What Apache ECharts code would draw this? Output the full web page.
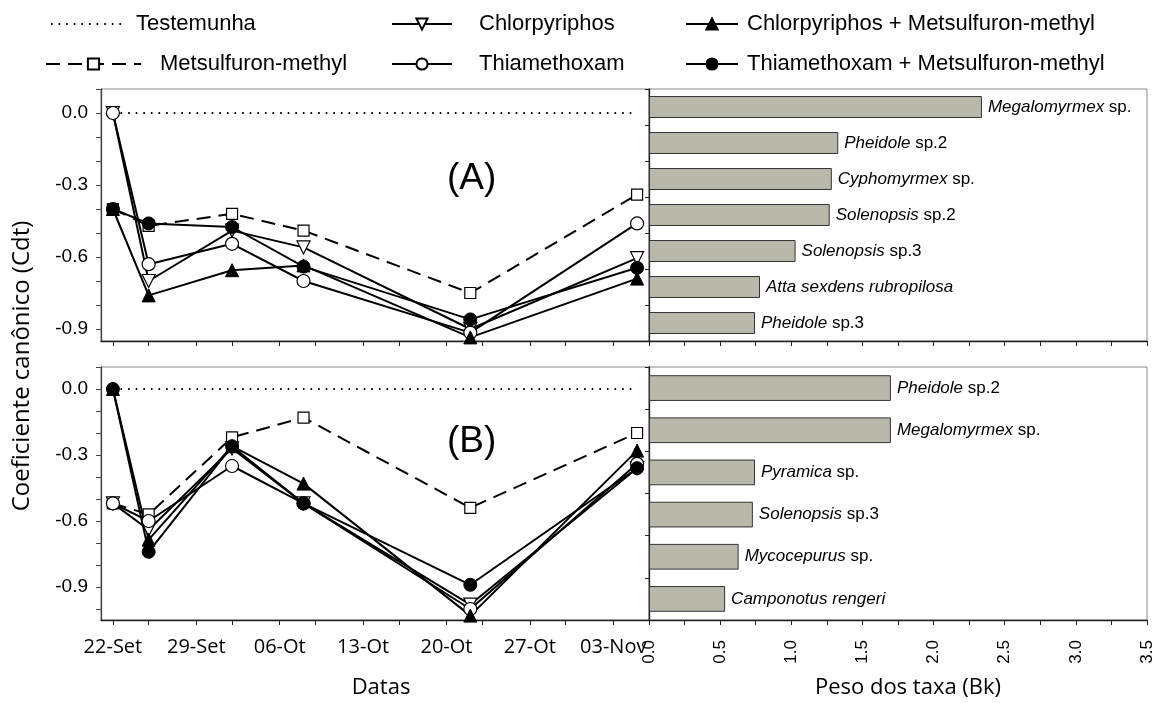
<!DOCTYPE html>
<html>
<head>
<meta charset="utf-8">
<script src="https://cdn.jsdelivr.net/npm/echarts/dist/echarts.min.js"></script>
<style>
html,body{margin:0;padding:0;background:#fff;}
#chart{width:1173px;height:703px;}
</style>
</head>
<body>
<div id="chart"></div>
<script>
// ---- data ----
const sampleDays = [0, 3, 10, 16, 30, 44];
const dateTickDays = [0, 7, 14, 21, 28, 35, 42];
const dateLabels = ['22-Set', '29-Set', '06-Ot', '13-Ot', '20-Ot', '27-Ot', '03-Nov'];
const minorDateTicks = [0, 3, 7, 10, 14, 17, 21, 24, 28, 31, 35, 38, 42, 45];

const seriesNames = ['Testemunha', 'Metsulfuron-methyl', 'Chlorpyriphos', 'Thiamethoxam',
  'Chlorpyriphos + Metsulfuron-methyl', 'Thiamethoxam + Metsulfuron-methyl'];

const testA   = [0, 0, 0, 0, 0, 0];
const metA    = [-0.40, -0.47, -0.42, -0.49, -0.75, -0.34];
const chlA    = [0, -0.70, -0.49, -0.56, -0.90, -0.605];
const thiA    = [0, -0.63, -0.545, -0.70, -0.915, -0.46];
const chlMetA = [-0.40, -0.76, -0.655, -0.635, -0.935, -0.69];
const thiMetA = [-0.40, -0.46, -0.475, -0.64, -0.86, -0.645];

const testB   = [0, 0, 0, 0, 0, 0];
const metB    = [-0.52, -0.57, -0.22, -0.13, -0.54, -0.20];
const chlB    = [-0.52, -0.64, -0.27, -0.52, -0.98, -0.36];
const thiB    = [-0.52, -0.60, -0.35, -0.52, -1.00, -0.34];
const chlMetB = [0, -0.685, -0.26, -0.43, -1.03, -0.28];
const thiMetB = [0, -0.74, -0.26, -0.52, -0.89, -0.36];

const yLabelsAB = [0, -0.3, -0.6, -0.9];
const yTicksA = [0.1, 0, -0.1, -0.2, -0.3, -0.4, -0.5, -0.6, -0.7, -0.8, -0.9];
const yTicksB = [0.1, 0, -0.1, -0.2, -0.3, -0.4, -0.5, -0.6, -0.7, -0.8, -0.9, -1.0];

const barCatsA = ['Megalomyrmex sp.', 'Pheidole sp.2', 'Cyphomyrmex sp.', 'Solenopsis sp.2',
  'Solenopsis sp.3', 'Atta sexdens rubropilosa', 'Pheidole sp.3'];
const barValsA = [2.34, 1.33, 1.285, 1.27, 1.03, 0.78, 0.745];
const barCatsB = ['Pheidole sp.2', 'Megalomyrmex sp.', 'Pyramica sp.', 'Solenopsis sp.3',
  'Mycocepurus sp.', 'Camponotus rengeri'];
const barValsB = [1.70, 1.70, 0.745, 0.73, 0.63, 0.535];

// ---- helpers ----
const pair = (vals) => vals.map((v, i) => [sampleDays[i], v]);
const FONT = '"Liberation Sans", Arial, sans-serif';
const FONT2 = '"Open Sans", "Noto Sans", sans-serif';

const styles = {
  'Testemunha': { symbol: 'none', showSymbol: false, lineStyle: { type: [1.6, 6], width: 2, color: '#000', cap: 'butt' }, itemStyle: { color: '#000' } },
  'Metsulfuron-methyl': { symbol: 'rect', symbolSize: 11, lineStyle: { type: [14, 8], width: 2, color: '#000' }, itemStyle: { color: '#fff', borderColor: '#000', borderWidth: 1.2 } },
  'Chlorpyriphos': { symbol: 'triangle', symbolRotate: 180, symbolSize: 13, lineStyle: { width: 2, color: '#000' }, itemStyle: { color: '#fff', borderColor: '#000', borderWidth: 1.2 } },
  'Thiamethoxam': { symbol: 'circle', symbolSize: 13, lineStyle: { width: 2, color: '#000' }, itemStyle: { color: '#fff', borderColor: '#000', borderWidth: 1.2 } },
  'Chlorpyriphos + Metsulfuron-methyl': { symbol: 'triangle', symbolSize: 13, lineStyle: { width: 2, color: '#000' }, itemStyle: { color: '#000', borderColor: '#000', borderWidth: 1 } },
  'Thiamethoxam + Metsulfuron-methyl': { symbol: 'circle', symbolSize: 13, lineStyle: { width: 2, color: '#000' }, itemStyle: { color: '#000', borderColor: '#000', borderWidth: 1 } }
};

function lineSeries(name, vals, xi, yi) {
  return Object.assign({
    name: name, type: 'line', xAxisIndex: xi, yAxisIndex: yi,
    data: pair(vals), animation: false, z: 3,
    emphasis: { disabled: true }
  }, JSON.parse(JSON.stringify(styles[name])));
}

function barLabel(p) {
  const m = p.name.match(/^(.*?)( sp\..*)$/);
  if (m) return '{i|' + m[1] + '}{n|' + m[2] + '}';
  return '{i|' + p.name + '}';
}

const lineXAxis = (gi, showLabels) => ({
  type: 'value', gridIndex: gi, min: -1, max: 45,
  axisLine: { show: true, onZero: false, lineStyle: { color: '#222', width: 1.3 } },
  axisTick: { show: true, customValues: minorDateTicks, length: 5, lineStyle: { color: '#222' } },
  axisLabel: {
    show: showLabels, customValues: dateTickDays, margin: 17,
    formatter: (v) => dateLabels[dateTickDays.indexOf(v)] || '',
    fontFamily: FONT2, fontSize: 20, color: '#000'
  },
  splitLine: { show: false },
  name: showLabels ? 'Datas' : '', nameLocation: 'middle', nameGap: 57,
  nameTextStyle: { fontFamily: FONT2, fontSize: 22, color: '#000', padding: [0, 0, 0, 12] }
});

const lineYAxis = (gi, min, ticks) => ({
  type: 'value', gridIndex: gi, min: min, max: 0.1,
  axisLine: { show: true, onZero: false, lineStyle: { color: '#444', width: 1.3 } },
  axisTick: { show: true, customValues: ticks, length: 5, lineStyle: { color: '#444' } },
  axisLabel: { customValues: yLabelsAB, formatter: (v) => v.toFixed(1), fontFamily: FONT, fontSize: 19, color: '#000', margin: 13 },
  splitLine: { show: false }
});

const barXAxis = (gi, showLabels) => ({
  type: 'value', gridIndex: gi, min: 0, max: 3.5, interval: 0.5,
  axisLine: { show: true, onZero: false, lineStyle: { color: '#222', width: 1.3 } },
  axisTick: { show: true, length: 5, lineStyle: { color: '#222' } },
  minorTick: { show: true, splitNumber: 2, length: 5, lineStyle: { color: '#222' } },
  axisLabel: { show: showLabels, rotate: 90, formatter: (v) => v.toFixed(1), fontFamily: FONT, fontSize: 17, color: '#000', margin: 20 },
  splitLine: { show: false },
  name: showLabels ? 'Peso dos taxa (Bk)' : '', nameLocation: 'middle', nameGap: 57,
  nameTextStyle: { fontFamily: FONT2, fontSize: 22, color: '#000', padding: [0, 0, 0, 20] }
});

const barYAxis = (gi, cats) => ({
  type: 'category', gridIndex: gi, data: cats, inverse: true,
  axisLine: { show: true, lineStyle: { color: '#222', width: 1.3 } },
  axisTick: { show: true, length: 4, lineStyle: { color: '#222' } },
  axisLabel: { show: false }
});

const barSeries = (vals, xi, yi) => ({
  type: 'bar', xAxisIndex: xi, yAxisIndex: yi, data: vals, animation: false,
  barCategoryGap: '39%',
  itemStyle: { color: '#b9b9ab', borderColor: '#333', borderWidth: 1 },
  label: {
    show: true, position: 'right', distance: 6, formatter: barLabel,
    rich: {
      i: { fontFamily: FONT, fontStyle: 'italic', fontSize: 17, color: '#000' },
      n: { fontFamily: FONT, fontSize: 17, color: '#000' }
    }
  },
  emphasis: { disabled: true }
});

const legendPos = [
  { name: 'Testemunha', left: 45, top: 8, w: 72, pad: 8, hideSym: true },
  { name: 'Chlorpyriphos', left: 386, top: 8, w: 60, pad: 22 },
  { name: 'Chlorpyriphos + Metsulfuron-methyl', left: 680, top: 8, w: 52, pad: 4 },
  { name: 'Metsulfuron-methyl', left: 40, top: 48, w: 95, pad: 14 },
  { name: 'Thiamethoxam', left: 386, top: 48, w: 60, pad: 22 },
  { name: 'Thiamethoxam + Metsulfuron-methyl', left: 680, top: 48, w: 52, pad: 4 }
];

const gridStyle = { show: true, borderColor: '#8a8a8a', borderWidth: 1, backgroundColor: '#fff' };

const option = {
  backgroundColor: '#fff',
  animation: false,
  legend: legendPos.map(l => ({
    data: [l.hideSym ? { name: l.name, itemStyle: { opacity: 0 } } : l.name],
    left: l.left, top: l.top, itemWidth: l.w, itemHeight: 14,
    selectedMode: false,
    textStyle: { fontFamily: FONT, fontSize: 22, color: '#000', padding: [0, 0, 0, l.pad] }
  })),
  grid: [
    Object.assign({ left: 101, top: 89, width: 548, height: 252 }, gridStyle),
    Object.assign({ left: 649, top: 89, width: 498, height: 252 }, gridStyle),
    Object.assign({ left: 101, top: 367, width: 548, height: 253 }, gridStyle),
    Object.assign({ left: 649, top: 367, width: 498, height: 253 }, gridStyle)
  ],
  xAxis: [
    lineXAxis(0, false),
    barXAxis(1, false),
    lineXAxis(2, true),
    barXAxis(3, true)
  ],
  yAxis: [
    lineYAxis(0, -0.95, yTicksA),
    barYAxis(1, barCatsA),
    lineYAxis(2, -1.05, yTicksB),
    barYAxis(3, barCatsB)
  ],
  graphic: [
    { type: 'text', left: 447, top: 160, style: { text: '(A)', fontFamily: FONT, fontSize: 37, fill: '#000' } },
    { type: 'text', left: 447, top: 423, style: { text: '(B)', fontFamily: FONT, fontSize: 37, fill: '#000' } },
    { type: 'text', x: 22, y: 366, rotation: Math.PI / 2,
      style: { text: 'Coeficiente canônico (Cdt)', fontFamily: FONT2, fontSize: 24, fill: '#000', align: 'center', verticalAlign: 'middle' } }
  ],
  series: [
    lineSeries('Testemunha', testA, 0, 0),
    lineSeries('Metsulfuron-methyl', metA, 0, 0),
    lineSeries('Chlorpyriphos', chlA, 0, 0),
    lineSeries('Thiamethoxam', thiA, 0, 0),
    lineSeries('Chlorpyriphos + Metsulfuron-methyl', chlMetA, 0, 0),
    lineSeries('Thiamethoxam + Metsulfuron-methyl', thiMetA, 0, 0),
    lineSeries('Testemunha', testB, 2, 2),
    lineSeries('Metsulfuron-methyl', metB, 2, 2),
    lineSeries('Chlorpyriphos', chlB, 2, 2),
    lineSeries('Thiamethoxam', thiB, 2, 2),
    lineSeries('Chlorpyriphos + Metsulfuron-methyl', chlMetB, 2, 2),
    lineSeries('Thiamethoxam + Metsulfuron-methyl', thiMetB, 2, 2),
    barSeries(barValsA, 1, 1),
    barSeries(barValsB, 3, 3)
  ]
};

const chart = echarts.init(document.getElementById('chart'), null, { renderer: 'canvas' });
chart.setOption(option);
</script>
</body>
</html>
